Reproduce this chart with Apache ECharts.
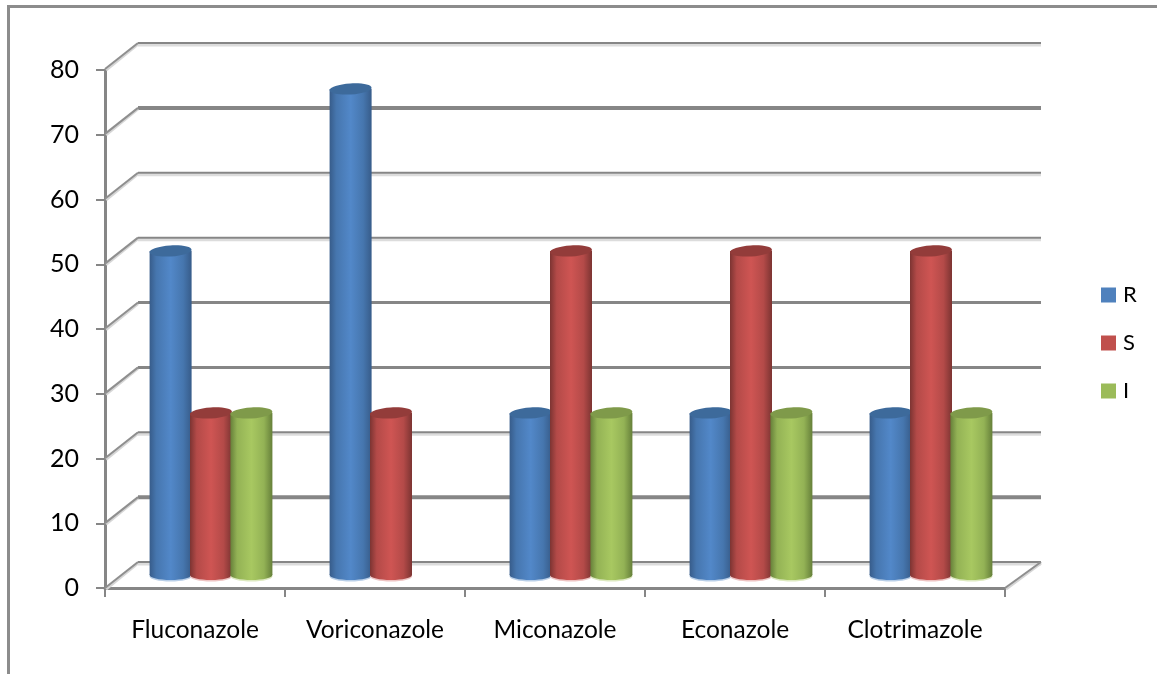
<!DOCTYPE html>
<html>
<head>
<meta charset="utf-8">
<title>Antifungal susceptibility</title>
<style>html,body{margin:0;padding:0;background:#fff}#c{width:1157px;height:674px}</style>
<script src="https://cdn.jsdelivr.net/npm/echarts@6/dist/echarts.min.js"></script>
</head>
<body>
<div id="c"></div>
<script>
// Percentage of isolates per antifungal drug
const categories = ['Fluconazole', 'Voriconazole', 'Miconazole', 'Econazole', 'Clotrimazole'];
const seriesNames = ['R', 'S', 'I'];
const valuesR = [50, 75, 25, 25, 25];
const valuesS = [25, 25, 50, 50, 50];
const valuesI = [25, null, 25, 25, 25];
const gridValues = [0, 10, 20, 30, 40, 50, 60, 70, 80];

const chart = echarts.init(document.getElementById('c'), null, { renderer: 'canvas' });
const AXIS = '#868686';
const textColor = '#000';
const fontFamily = 'Lato, "Open Sans", sans-serif';

// Per-colour shading of the cylinders: edge, shoulder, centre, cap, rim
const shades = {
  R: { base: '#4F81BD', edge: '#375c8a', mid: '#4676ae', light: '#5288c9', cap: '#3d6a9b', rim: '#b9cfe8' },
  S: { base: '#C0504D', edge: '#7c3432', mid: '#b34a48', light: '#cf5553', cap: '#933c3a', rim: '#eec4c3' },
  I: { base: '#9BBB59', edge: '#66803a', mid: '#93b255', light: '#a8c861', cap: '#7f9a4a', rim: '#dde9c0' }
};

// Back wall: a horizontal line per tick, plus the diagonal running to the front axis
const heavy = { 10: 4, 30: 3, 40: 3, 70: 4 };
function renderWall(params, api) {
  const v = api.value(0);
  const p = api.coord([0, v]);
  const left = params.coordSys.x;
  const right = left + params.coordSys.width;
  const y = p[1];
  const w = heavy[v] || 2;
  const children = [];
  if (!heavy[v]) {
    children.push({ type: 'line', shape: { x1: left, y1: y + 2, x2: right, y2: y + 2 },
      style: { stroke: '#dcdcdc', lineWidth: 3 } });
  }
  children.push({ type: 'line', shape: { x1: left, y1: y, x2: right, y2: y },
    style: { stroke: AXIS, lineWidth: w } });
  children.push({ type: 'line', shape: { x1: left - 32, y1: y + 27, x2: left, y2: y + 1 },
    style: { stroke: '#d6d6d6', lineWidth: 3 } });
  children.push({ type: 'line', shape: { x1: left - 33, y1: y + 26, x2: left, y2: y },
    style: { stroke: '#8f8f8f', lineWidth: 2 } });
  if (v === 0) {
    children.push({ type: 'line', shape: { x1: right - 35, y1: y + 27, x2: right, y2: y + 1 },
      style: { stroke: '#d6d6d6', lineWidth: 3 } });
    children.push({ type: 'line', shape: { x1: right - 36, y1: y + 26, x2: right, y2: y },
      style: { stroke: '#8f8f8f', lineWidth: 2 } });
  }
  return { type: 'group', children };
}

// One cylinder per value, drawn from the scale position of its category and value
function cylinderRenderer(name, slot) {
  const c = shades[name];
  return function (params, api) {
    const cat = api.value(0);
    const val = api.value(1);
    if (val == null || isNaN(val)) return null;
    const top = api.coord([cat, val]);
    const bottom = api.coord([cat, 0]);
    const halfW = 21;
    const cx = top[0] + slot * 40.4;
    const x = cx - halfW;
    const fill = new echarts.graphic.LinearGradient(0, 0, 1, 0, [
      { offset: 0, color: c.edge },
      { offset: 0.16, color: c.mid },
      { offset: 0.5, color: c.light },
      { offset: 0.8, color: c.mid },
      { offset: 1, color: c.edge }
    ]);
    return {
      type: 'group',
      children: [
        { type: 'ellipse', shape: { cx: cx, cy: bottom[1] + 1.5, rx: halfW, ry: 5 }, style: { fill: c.rim } },
        { type: 'ellipse', shape: { cx: cx, cy: bottom[1], rx: halfW, ry: 5 }, style: { fill: fill } },
        { type: 'rect', shape: { x: x, y: top[1], width: halfW * 2, height: bottom[1] - top[1] },
          style: { fill: fill } },
        { type: 'ellipse', shape: { cx: 0, cy: 0, rx: halfW, ry: 5.5 }, x: cx, y: top[1], rotation: 0.06,
          style: { fill: c.cap } }
      ]
    };
  };
}

const hiddenX = { type: 'category', data: categories, show: false };
const hiddenY = { type: 'value', min: 0, max: 80, interval: 10, show: false };

function cylinderSeries(name, values, slot) {
  return {
    name: name,
    type: 'custom',
    xAxisIndex: 2,
    yAxisIndex: 2,
    clip: false,
    z: 3,
    itemStyle: { color: shades[name].base },
    encode: { x: 0, y: 1 },
    data: values.map((v, i) => [i, v]),
    renderItem: cylinderRenderer(name, slot)
  };
}

chart.setOption({
  animation: false,
  backgroundColor: '#fff',
  grid: [
    { left: 105, top: 70, width: 900, height: 518 },   // front axes
    { left: 138, top: 43, width: 903, height: 519 },   // back wall
    { left: 121, top: 56.5, width: 900, height: 518.5 } // cylinders, halfway in depth
  ],
  xAxis: [
    {
      gridIndex: 0, type: 'category', data: categories,
      axisLine: { lineStyle: { color: AXIS, width: 3 } },
      axisTick: { show: true, length: 9, alignWithLabel: false, lineStyle: { color: AXIS, width: 2 } },
      axisLabel: { color: textColor, fontSize: 24.5, fontFamily, margin: 30, interval: 0 }
    },
    Object.assign({ gridIndex: 1 }, hiddenX),
    Object.assign({ gridIndex: 2 }, hiddenX)
  ],
  yAxis: [
    {
      gridIndex: 0, type: 'value', min: 0, max: 80, interval: 10,
      splitLine: { show: false },
      axisLine: { show: true, lineStyle: { color: AXIS, width: 3 } },
      axisTick: { show: true, length: 9, lineStyle: { color: AXIS, width: 2 } },
      axisLabel: { color: textColor, fontSize: 25, fontFamily, margin: 26 }
    },
    Object.assign({ gridIndex: 1 }, hiddenY),
    Object.assign({ gridIndex: 2 }, hiddenY)
  ],
  legend: {
    orient: 'vertical', left: 1096, top: 279, icon: 'rect',
    itemWidth: 15, itemHeight: 15, itemGap: 26,
    selectedMode: false, data: seriesNames,
    textStyle: { color: textColor, fontSize: 22, fontFamily, padding: [0, 0, 0, 2] }
  },
  graphic: [
    { type: 'polyline', silent: true, z: 0,
      shape: { points: [[8.5, 674], [8.5, 6.5], [1157, 6.5]] },
      style: { fill: null, stroke: '#8c8c8c', lineWidth: 3 } }
  ],
  series: [
    {
      type: 'custom', name: 'wall', xAxisIndex: 1, yAxisIndex: 1, clip: false, z: 1, silent: true,
      encode: { y: 0 },
      data: gridValues.map(v => [v]),
      renderItem: renderWall
    },
    cylinderSeries('R', valuesR, -1),
    cylinderSeries('S', valuesS, 0),
    cylinderSeries('I', valuesI, 1)
  ]
});
</script>
</body>
</html>
